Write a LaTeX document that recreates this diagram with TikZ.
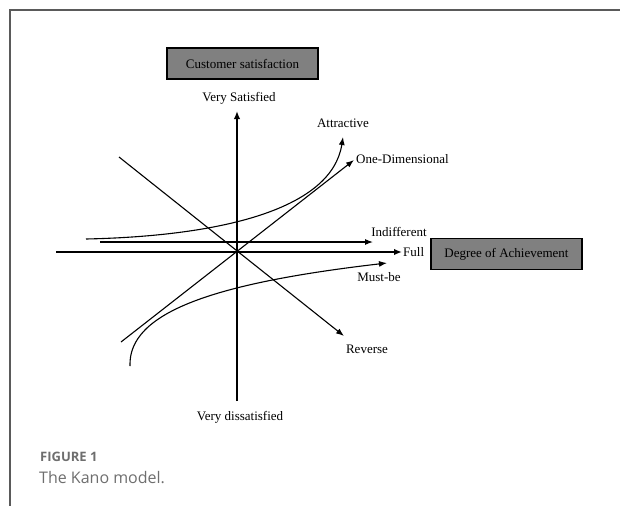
\documentclass[tikz,border=0pt]{standalone}
\usepackage{fontspec}
\setmainfont{Liberation Serif}
\newfontfamily\capfont{Open Sans}
\usetikzlibrary{arrows.meta}
\definecolor{framegray}{HTML}{5A5A5A}
\definecolor{boxgray}{HTML}{808080}
\definecolor{capgray}{HTML}{6E6E6E}
\begin{document}
\begin{tikzpicture}[x=1pt,y=-1pt,
  lbl/.style={font=\fontsize{13}{15}\selectfont, inner sep=0pt},
  graybox/.style={draw=black, line width=1.2pt, fill=boxgray, minimum width=151pt, minimum height=31pt, inner sep=0pt, font=\fontsize{13}{15}\selectfont},
  axis/.style={line width=1.6pt, -{Latex[length=8pt,width=6.5pt]}},
  kline/.style={line width=1.1pt, -{Latex[length=8pt,width=6pt]}},
  frameline/.style={draw=framegray, line width=1.5pt}]
\useasboundingbox (0,0) rectangle (620,506);
% frame
\draw[frameline] (620,10) -- (10,10) -- (10,506);
% boxes
\node[graybox] (cs) at (242.5,63.5) {Customer satisfaction};
\node[graybox] (da) at (506.5,254) {Degree of Achievement};
% coordinates
\coordinate (vtop) at (237,111);
\coordinate (vbot) at (237,401);
\coordinate (hleft) at (56,252);
\coordinate (hright) at (402,252);
\coordinate (ileft) at (100,242);
\coordinate (iright) at (373,242);
\coordinate (astart) at (86,239);
\coordinate (aend) at (343,137);
\coordinate (ostart) at (121,342);
\coordinate (oend) at (354,160);
\coordinate (rstart) at (119,157);
\coordinate (rend) at (344,336);
\coordinate (mstart) at (130,366);
\coordinate (mend) at (387,263);
% labels
\node[lbl] (vs) at (239,98) {Very Satisfied};
\node[lbl] (vd) at (240,417) {Very dissatisfied};
\node[lbl] (att) at (343,123) {Attractive};
\node[lbl, anchor=west] (one) at (356,159) {One-Dimensional};
\node[lbl] (ind) at (399,232) {Indifferent};
\node[lbl, anchor=west] (full) at (403,252) {Full};
\node[lbl] (must) at (379,277) {Must-be};
\node[lbl] (rev) at (367,349) {Reverse};
% axes
\draw[axis] (vbot) -- (vtop);
\draw[axis] (hleft) -- (hright);
% lines
\draw[kline] (ileft) -- (iright);
\draw[kline] (astart) .. controls (225,236) and (332,208) .. (aend);
\draw[kline] (ostart) -- (oend);
\draw[kline] (rstart) -- (rend);
\draw[kline] (mstart) .. controls (128,312) and (215,283) .. (mend);
% caption
\node[anchor=west, inner sep=0pt, text=capgray, font=\capfont\bfseries\fontsize{13}{15}\selectfont] (fig) at (40,457) {FIGURE 1};
\node[anchor=west, inner sep=0pt, text=capgray, font=\capfont\fontsize{16}{18}\selectfont] (cap) at (39,478) {The Kano model.};
\end{tikzpicture}
\end{document}
